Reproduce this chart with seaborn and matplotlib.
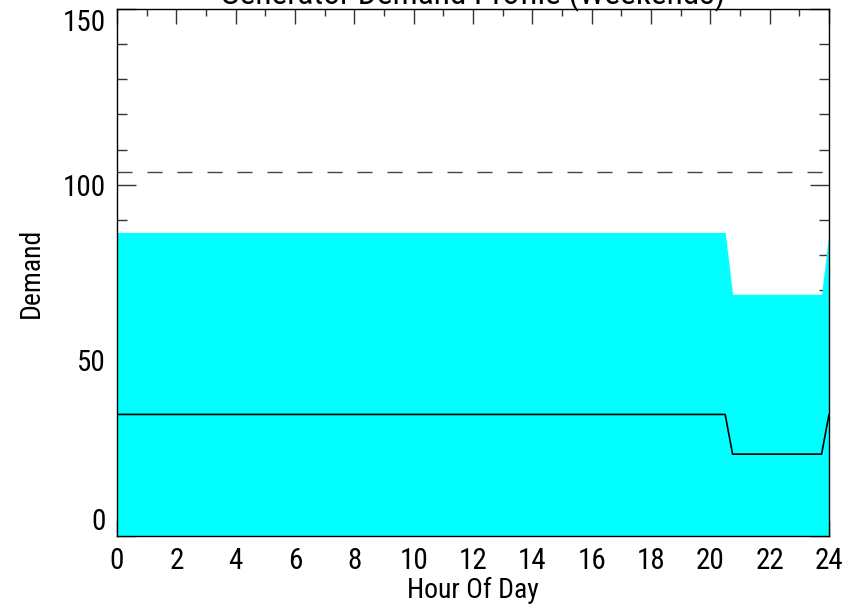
import matplotlib
matplotlib.use("Agg")
import matplotlib.pyplot as plt
from matplotlib.ticker import MultipleLocator
import pandas as pd
import seaborn as sns

# Weekend generator demand, step profile with 15-min ramps
hours = [0, 20.5, 20.75, 23.75, 24]
capacity = [86.4, 86.4, 68.8, 68.8, 86.4]   # cyan area
demand = [34.6, 34.6, 23.3, 23.3, 34.6]     # black line
limit = 103.7                               # dashed reference
x_ticks = list(range(0, 25, 2))
y_ticks = [0, 50, 100, 150]

TITLE = "Generator Demand Profile (Weekends)"
CYAN = "#00FFFF"

sns.set_style("ticks")
plt.rcParams["font.family"] = ["Roboto Condensed", "Liberation Sans", "DejaVu Sans"]

df = pd.DataFrame({"hour": hours, "capacity": capacity, "demand": demand})

fig = plt.figure(figsize=(8.65, 6.1), dpi=100)
ax = fig.add_axes([117 / 865, 74 / 610, 712 / 865, 527 / 610])

ax.fill_between(df["hour"], 0, df["capacity"], color=CYAN, linewidth=0, zorder=1)
sns.lineplot(data=df, x="hour", y="demand", color="black", linewidth=1.2,
             ax=ax, zorder=3)
ax.axhline(limit, color="#444444", linewidth=1.0, linestyle=(0, (10.8, 10.8)),
           zorder=2)

ax.set_xlim(0, 24)
ax.set_ylim(0, 150)
ax.set_xticks(x_ticks)
ax.set_yticks(y_ticks)
ax.xaxis.set_minor_locator(MultipleLocator(1))
ax.yaxis.set_minor_locator(MultipleLocator(10))
ax.tick_params(which="both", direction="in", top=True, right=True,
               color="#333333", labelsize=21, labelcolor="black", width=1.0)
# IDL-style tick lengths: proportional to the other axis's extent
ax.tick_params(axis="x", which="major", length=10.5, pad=8)
ax.tick_params(axis="x", which="minor", length=5)
ax.tick_params(axis="y", which="major", length=14, pad=8)
ax.tick_params(axis="y", which="minor", length=7)
for spine in ax.spines.values():
    spine.set_visible(True)
    spine.set_color("black")
    spine.set_linewidth(1.0)

ax.set_xlabel("Hour Of Day", fontsize=20, labelpad=1, color="black")
ax.set_ylabel("Demand", fontsize=20, labelpad=13, color="black")

# first/last y labels sit inside the axis span, as in the original
ylabels = ax.get_yticklabels()
ylabels[0].set_va("bottom")
ylabels[-1].set_va("top")

fig.text((117 + 829) / 2 / 865, 1 - 4 / 610, TITLE, ha="center", va="baseline",
         fontsize=24, color="black")

fig.savefig("out.png", dpi=100)
plt.close(fig)
